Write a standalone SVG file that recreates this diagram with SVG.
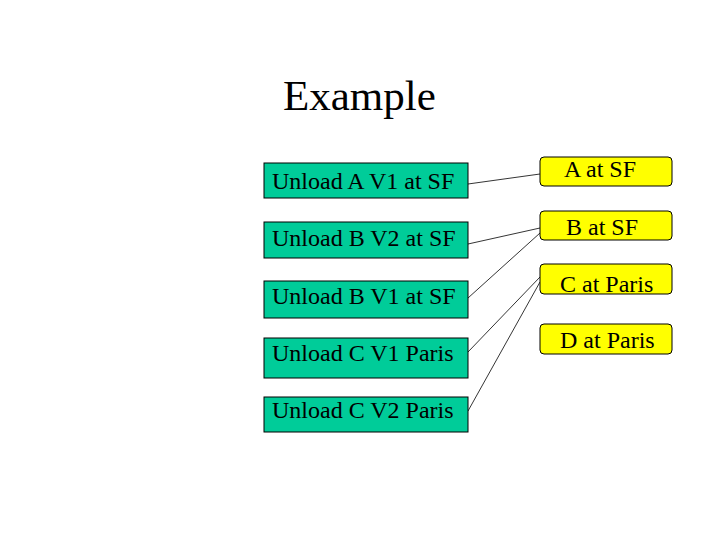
<svg xmlns="http://www.w3.org/2000/svg" width="720" height="540" viewBox="0 0 720 540">
<style>
.act{fill:#00cc99;stroke:#000;stroke-width:1}
.prop{fill:#ffff00;stroke:#000;stroke-width:1}
.t{font-family:"Liberation Serif","Times New Roman",serif;font-size:24px;fill:#000}
.title{font-family:"Liberation Serif","Times New Roman",serif;font-size:43px;fill:#000}
.c{stroke:#000;stroke-width:0.8;fill:none}
</style>
<rect width="720" height="540" fill="#fff"/>
<text class="title" x="283" y="110">Example</text>
<g id="connectors">
<line class="c" x1="468" y1="184" x2="540" y2="174"/>
<line class="c" x1="468" y1="244" x2="540" y2="228"/>
<line class="c" x1="468" y1="298" x2="540" y2="233"/>
<line class="c" x1="468" y1="352" x2="540" y2="277"/>
<line class="c" x1="468" y1="411" x2="540" y2="282"/>
</g>
<g id="a1"><rect class="act" x="264" y="163" width="204" height="35"/><text class="t" x="272" y="189">Unload A V1 at SF</text></g>
<g id="a2"><rect class="act" x="264" y="222" width="204" height="36"/><text class="t" x="272" y="246">Unload B V2 at SF</text></g>
<g id="a3"><rect class="act" x="264" y="281" width="204" height="37"/><text class="t" x="272" y="304">Unload B V1 at SF</text></g>
<g id="a4"><rect class="act" x="264" y="338" width="204" height="40"/><text class="t" x="272" y="361">Unload C V1 Paris</text></g>
<g id="a5"><rect class="act" x="264" y="397" width="204" height="35"/><text class="t" x="272" y="418">Unload C V2 Paris</text></g>
<g id="p1"><rect class="prop" x="540" y="157" width="132" height="29" rx="4"/><text class="t" x="564" y="177">A at SF</text></g>
<g id="p2"><rect class="prop" x="540" y="211" width="132" height="29" rx="4"/><text class="t" x="566" y="235">B at SF</text></g>
<g id="p3"><rect class="prop" x="540" y="264" width="132" height="30" rx="4"/><text class="t" x="560" y="292">C at Paris</text></g>
<g id="p4"><rect class="prop" x="540" y="324" width="132" height="30" rx="4"/><text class="t" x="560" y="348">D at Paris</text></g>
</svg>
